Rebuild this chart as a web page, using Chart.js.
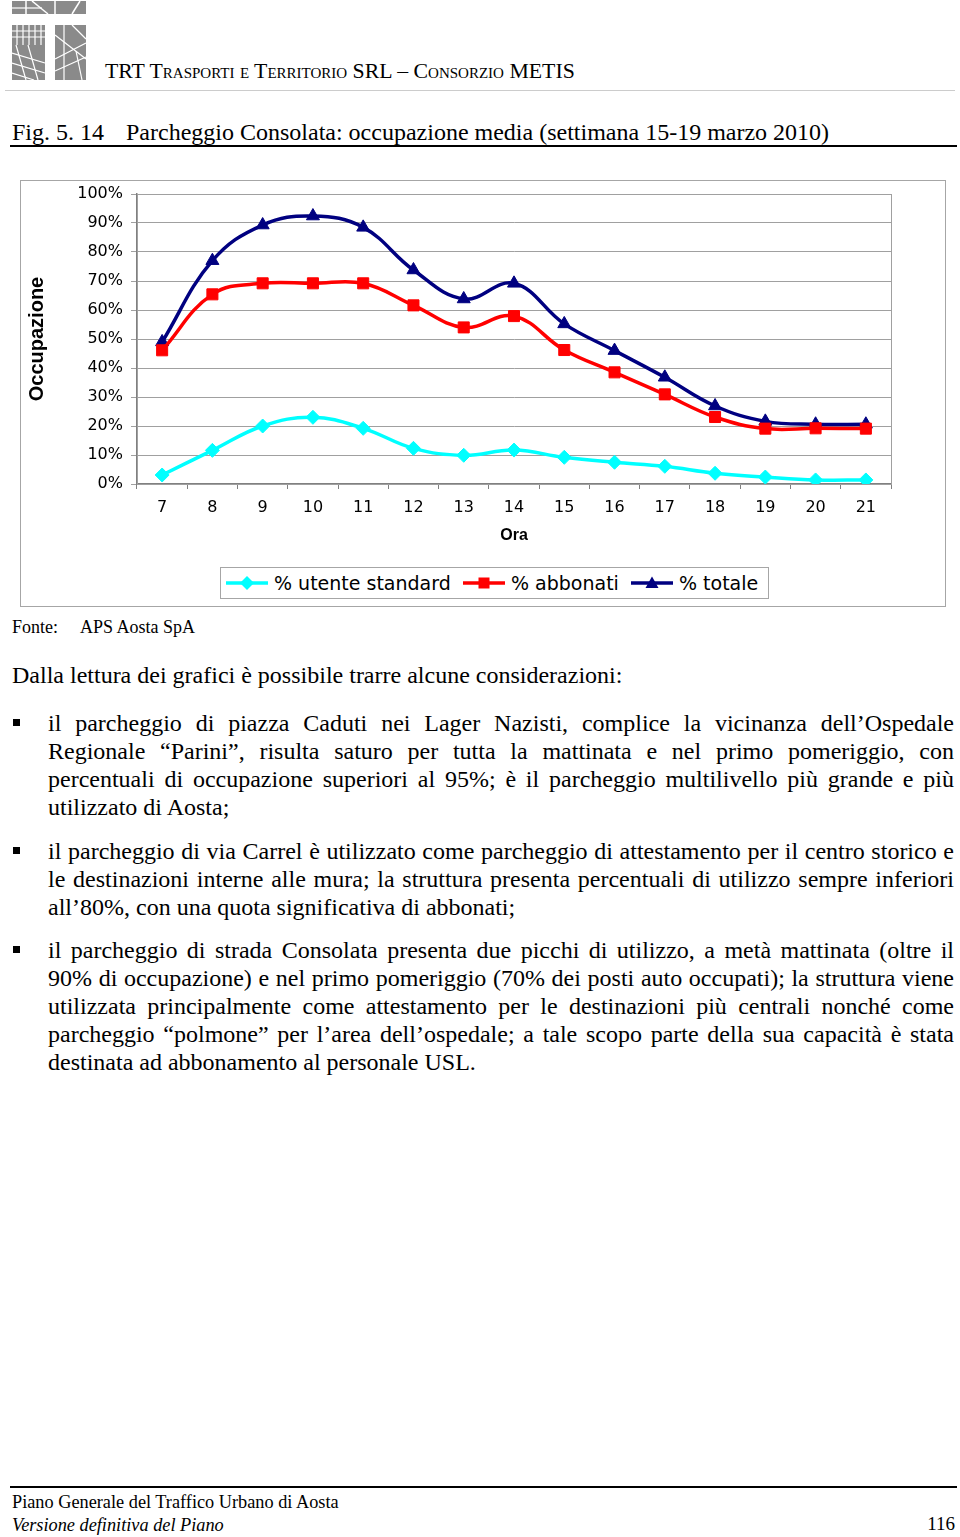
<!DOCTYPE html>
<html><head><meta charset="utf-8">
<script src="https://cdn.jsdelivr.net/npm/chart.js@4.4.0/dist/chart.umd.min.js"></script>
<style>
html,body{margin:0;padding:0;background:#fff;}
body{width:960px;height:1537px;position:relative;overflow:hidden;font-family:"Liberation Serif","Times New Roman",serif;color:#000;}
.abs{position:absolute;white-space:nowrap;}
.line{position:absolute;left:48px;width:906px;height:28px;line-height:28px;font-size:24px;text-align:justify;text-align-last:justify;white-space:nowrap;}
.line.last{text-align-last:left;}
.bullet{position:absolute;left:13px;width:7px;height:7px;background:#000;}
</style></head>
<body>
<!-- logo -->
<svg class="abs" style="left:12px;top:1px" width="76" height="80" viewBox="0 0 76 80">
 <rect x="0" y="0" width="74" height="13" fill="#8a8a8a"/>
 <line x1="14" y1="0" x2="14" y2="13" stroke="#fff" stroke-width="1.5"/>
 <line x1="0" y1="7" x2="30" y2="7" stroke="#fff" stroke-width="1.2"/>
 <line x1="20" y1="0" x2="36" y2="13" stroke="#fff" stroke-width="1.5"/>
 <line x1="43" y1="0" x2="43" y2="13" stroke="#fff" stroke-width="1.5"/>
 <line x1="60" y1="13" x2="68" y2="0" stroke="#fff" stroke-width="1.5"/>
 <rect x="0" y="24" width="33" height="55" fill="#8a8a8a"/>
 <rect x="43" y="24" width="31" height="55" fill="#8a8a8a"/>
 <g stroke="#fff" stroke-width="1.2">
  <line x1="0" y1="30" x2="33" y2="30"/><line x1="0" y1="36" x2="33" y2="36"/>
  <line x1="5" y1="24" x2="5" y2="44"/><line x1="11" y1="24" x2="11" y2="44"/><line x1="17" y1="24" x2="17" y2="44"/><line x1="23" y1="24" x2="23" y2="44"/><line x1="29" y1="24" x2="29" y2="44"/>
  <line x1="0" y1="52" x2="33" y2="62"/><line x1="0" y1="62" x2="33" y2="72"/><line x1="0" y1="72" x2="22" y2="79"/>
  <line x1="4" y1="44" x2="14" y2="79"/><line x1="16" y1="44" x2="26" y2="79"/>
  <line x1="43" y1="34" x2="74" y2="58"/><line x1="43" y1="58" x2="74" y2="42"/><line x1="43" y1="70" x2="74" y2="56"/>
  <line x1="52" y1="24" x2="52" y2="79"/><line x1="64" y1="50" x2="70" y2="79"/><line x1="60" y1="24" x2="74" y2="38"/>
 </g>
</svg>
<div class="abs" style="left:105px;top:57px;font-size:21.8px;line-height:28px;font-variant:small-caps;">TRT Trasporti e Territorio SRL – Consorzio METIS</div>
<div class="abs" style="left:5px;top:90px;width:950px;height:1px;background:#ccc;"></div>

<div class="abs" style="left:12px;top:118px;font-size:24px;line-height:28px;">Fig. 5. 14</div>
<div class="abs" style="left:126px;top:118px;font-size:24px;line-height:28px;">Parcheggio Consolata: occupazione media (settimana 15-19 marzo 2010)</div>
<div class="abs" style="left:10px;top:145px;width:947px;height:2px;background:#000;"></div>

<!-- chart frame -->
<div class="abs" style="left:20px;top:180px;width:926px;height:427px;border:1px solid #a6a6a6;box-sizing:border-box;">
  <canvas id="c" width="924" height="370" style="position:absolute;left:0;top:0;"></canvas>
</div>
<!-- legend -->
<div class="abs" style="left:220px;top:567px;width:549px;height:32px;border:1px solid #a6a6a6;box-sizing:border-box;background:#fff;"></div>
<svg class="abs" style="left:224px;top:572px" width="48" height="22"><line x1="2" y1="11" x2="44" y2="11" stroke="#00FFFF" stroke-width="3.5"/><path d="M23 4 L30 11 L23 18 L16 11 Z" fill="#00FFFF"/></svg>
<div class="abs" style="left:274px;top:568px;font-family:'DejaVu Sans';font-size:19px;line-height:30px;">% utente standard</div>
<svg class="abs" style="left:461px;top:572px" width="48" height="22"><line x1="2" y1="11" x2="44" y2="11" stroke="#FF0000" stroke-width="3.5"/><rect x="17.5" y="5.5" width="11" height="11" fill="#FF0000"/></svg>
<div class="abs" style="left:511px;top:568px;font-family:'DejaVu Sans';font-size:19px;line-height:30px;">% abbonati</div>
<svg class="abs" style="left:629px;top:572px" width="48" height="22"><line x1="2" y1="11" x2="44" y2="11" stroke="#000080" stroke-width="3.5"/><path d="M23 4.5 L29.5 16 L16.5 16 Z" fill="#000080"/></svg>
<div class="abs" style="left:679px;top:568px;font-family:'DejaVu Sans';font-size:19px;line-height:30px;">% totale</div>

<div class="abs" style="left:12px;top:615px;font-size:18px;line-height:24px;">Fonte:</div>
<div class="abs" style="left:80px;top:615px;font-size:18px;line-height:24px;">APS Aosta SpA</div>

<div class="abs" style="left:12px;top:661px;font-size:24px;line-height:28px;">Dalla lettura dei grafici è possibile trarre alcune considerazioni:</div>

<div class="bullet" style="top:719px;"></div>
<div class="line" style="top:709px;">il parcheggio di piazza Caduti nei Lager Nazisti, complice la vicinanza dell’Ospedale</div>
<div class="line" style="top:737px;">Regionale “Parini”, risulta saturo per tutta la mattinata e nel primo pomeriggio, con</div>
<div class="line" style="top:765px;">percentuali di occupazione superiori al 95%; è il parcheggio multilivello più grande e più</div>
<div class="line last" style="top:793px;">utilizzato di Aosta;</div>

<div class="bullet" style="top:847px;"></div>
<div class="line" style="top:837px;">il parcheggio di via Carrel è utilizzato come parcheggio di attestamento per il centro storico e</div>
<div class="line" style="top:865px;">le destinazioni interne alle mura; la struttura presenta percentuali di utilizzo sempre inferiori</div>
<div class="line last" style="top:893px;">all’80%, con una quota significativa di abbonati;</div>

<div class="bullet" style="top:946px;"></div>
<div class="line" style="top:936px;">il parcheggio di strada Consolata presenta due picchi di utilizzo, a metà mattinata (oltre il</div>
<div class="line" style="top:964px;">90% di occupazione) e nel primo pomeriggio (70% dei posti auto occupati); la struttura viene</div>
<div class="line" style="top:992px;">utilizzata principalmente come attestamento per le destinazioni più centrali nonché come</div>
<div class="line" style="top:1020px;">parcheggio “polmone” per l’area dell’ospedale; a tale scopo parte della sua capacità è stata</div>
<div class="line last" style="top:1048px;">destinata ad abbonamento al personale USL.</div>

<div class="abs" style="left:10px;top:1486px;width:947px;height:2px;background:#000;"></div>
<div class="abs" style="left:12px;top:1491px;font-size:18.3px;line-height:22px;">Piano Generale del Traffico Urbano di Aosta</div>
<div class="abs" style="left:12px;top:1514px;font-size:18.3px;line-height:22px;font-style:italic;">Versione definitiva del Piano</div>
<div class="abs" style="right:5px;top:1513px;font-size:19px;line-height:22px;">116</div>

<script>
const hours = ['7','8','9','10','11','12','13','14','15','16','17','18','19','20','21'];
const utenteStandard = [3.1, 11.6, 20.0, 23.0, 19.2, 12.3, 9.9, 11.7, 9.2, 7.5, 6.1, 3.7, 2.4, 1.4, 1.4];
const abbonati = [46.1, 65.4, 69.2, 69.2, 69.2, 61.6, 54.0, 57.9, 46.2, 38.5, 30.9, 23.1, 19.1, 19.2, 19.1];
const totale = [49.0, 77.0, 89.3, 92.4, 88.5, 73.8, 63.8, 69.2, 55.2, 46.0, 36.8, 26.9, 21.6, 20.6, 20.6];
const seriesNames = ['% utente standard', '% abbonati', '% totale'];
const yTicks = [0,10,20,30,40,50,60,70,80,90,100];

const frame = {
  id: 'frame',
  beforeDatasetsDraw(chart) {
    const a = chart.chartArea, ctx = chart.ctx;
    ctx.save();
    ctx.strokeStyle = '#a0a0a0';
    ctx.lineWidth = 1;
    ctx.strokeRect(Math.round(a.left)+0.5, Math.round(a.top)+0.5, Math.round(a.right-a.left), Math.round(a.bottom-a.top));
    ctx.restore();
  }
};

new Chart(document.getElementById('c'), {
  type: 'line',
  data: {
    labels: hours,
    datasets: [
      {label: seriesNames[0], data: utenteStandard, borderColor:'#00FFFF', backgroundColor:'#00FFFF', borderWidth:3.5, pointStyle:'rectRot', pointRadius:7, pointBorderWidth:1, tension:0.4},
      {label: seriesNames[1], data: abbonati, borderColor:'#FF0000', backgroundColor:'#FF0000', borderWidth:3.5, pointStyle:'rect', pointRadius:7.8, pointBorderWidth:1, tension:0.4},
      {label: seriesNames[2], data: totale, borderColor:'#000080', backgroundColor:'#000080', borderWidth:3.5, pointStyle:'triangle', pointRadius:7.5, pointBorderWidth:1, tension:0.4}
    ]
  },
  options: {
    responsive:false,
    animation:false,
    layout:{padding:{left:0,top:13,right:54,bottom:0}},
    plugins:{legend:{display:false},tooltip:{enabled:false}},
    scales:{
      x:{
        offset:true,
        grid:{offset:true,drawOnChartArea:false,drawTicks:true,tickLength:5,color:'#808080'},
        border:{color:'#808080',width:1.5},
        ticks:{font:{family:'DejaVu Sans',size:16},color:'#000',padding:9,maxRotation:0,autoSkip:false},
        title:{display:true,text:'Ora',font:{family:'Liberation Sans',size:16,weight:'bold'},color:'#000',padding:{top:0,bottom:6}},
        afterFit(s){ s.height = 67; s.paddingLeft = 0; s.paddingRight = 0; }
      },
      y:{
        min:0,max:100,
        afterBuildTicks(s){ s.ticks = yTicks.map(v=>({value:v})); },
        grid:{color:'#a0a0a0',tickLength:6,lineWidth:1},
        border:{color:'#808080',width:1.5},
        ticks:{font:{family:'DejaVu Sans',size:16},color:'#000',padding:8,callback:v=>v+'%'},
        title:{display:true,text:'Occupazione',font:{family:'Liberation Sans',size:20,weight:'bold'},color:'#000',padding:{top:4,bottom:0}},
        afterFit(s){ s.width = 116; s.paddingTop = 0; s.paddingBottom = 0; }
      }
    }
  },
  plugins:[frame]
});
</script>
</body></html>
